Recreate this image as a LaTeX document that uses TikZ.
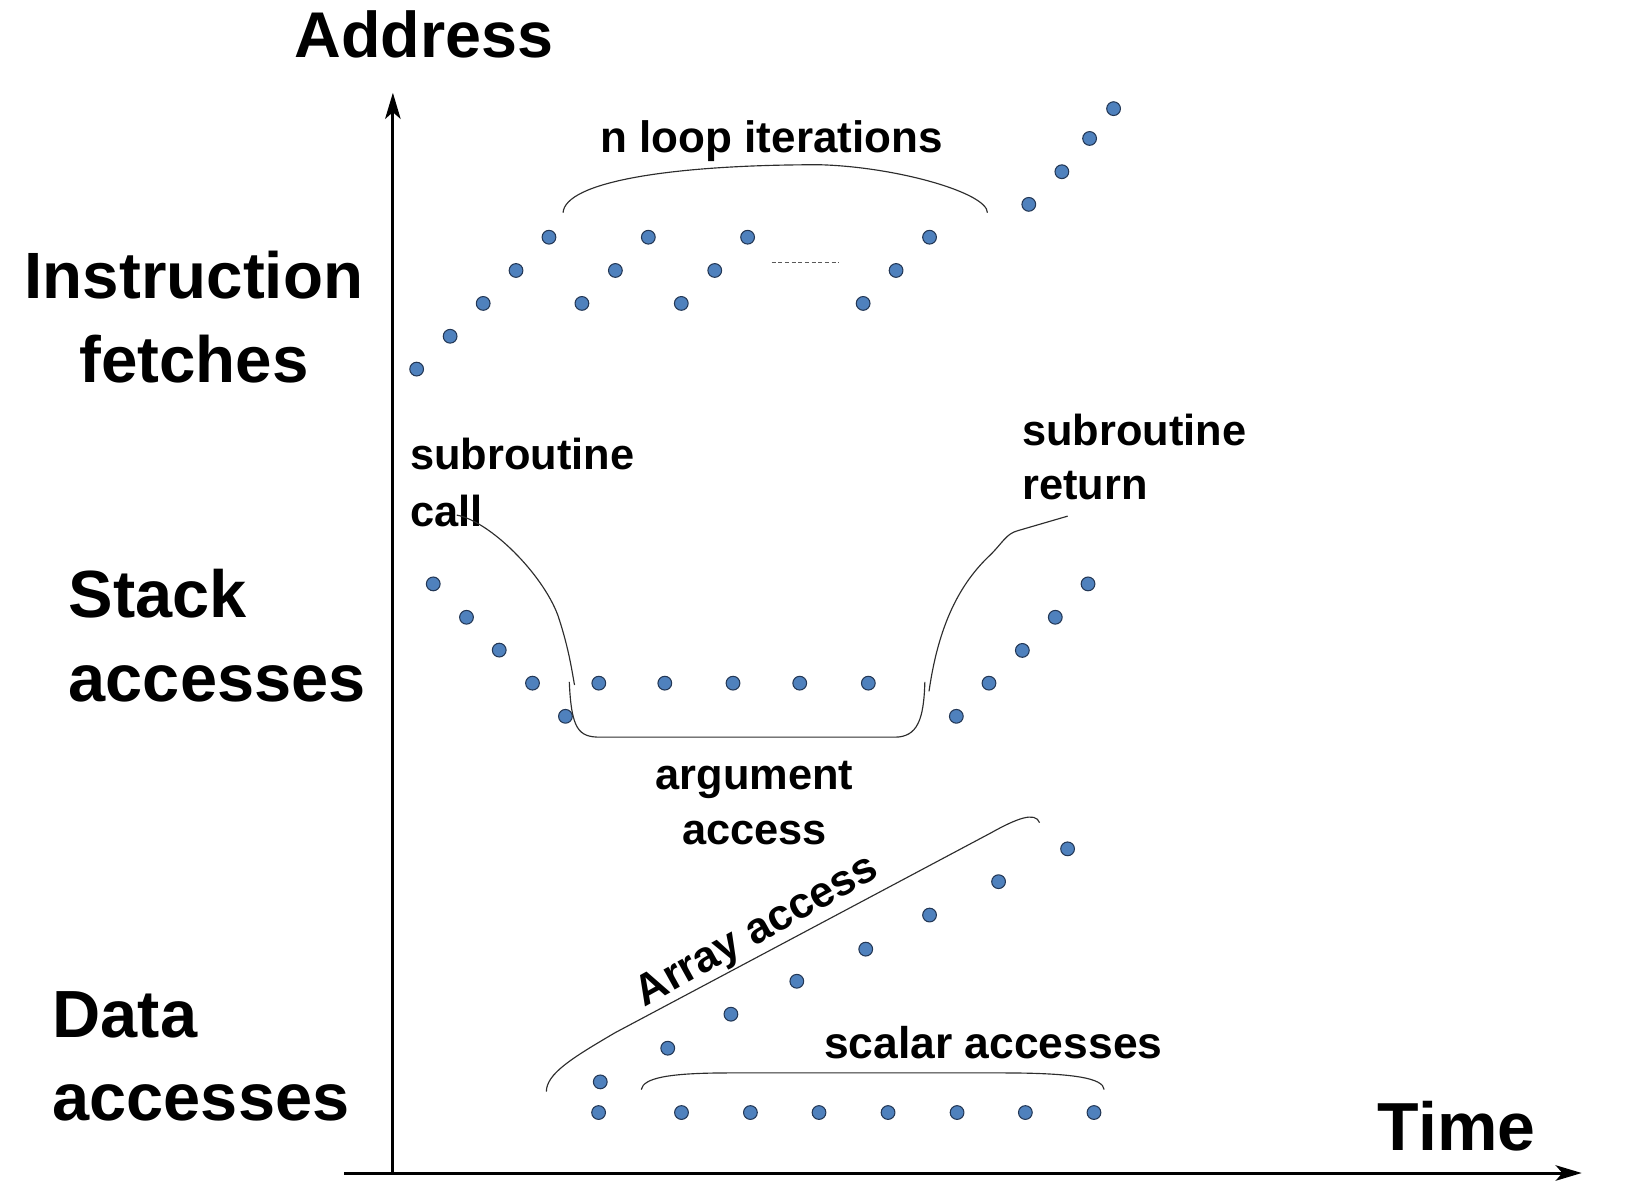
\documentclass[tikz,border=0pt]{standalone}
\usepackage{fontspec}
\setmainfont{Liberation Sans}
\usetikzlibrary{arrows.meta}
\definecolor{dotfill}{RGB}{79,129,189}
\definecolor{dotline}{RGB}{35,55,85}
\definecolor{bracecol}{RGB}{45,45,45}
\begin{document}
\begin{tikzpicture}[x=0.5pt,y=-0.5pt,
  dot/.style={circle,fill=dotfill,draw=dotline,line width=0.5pt,minimum size=6.6pt,inner sep=0pt},
  biglabel/.style={font=\fontsize{31}{40}\selectfont\bfseries,inner sep=0pt,anchor=base west},
  widelabel/.style={biglabel,font=\fontsize{32}{40}\selectfont\bfseries},
  smalllabel/.style={font=\fontsize{20.8}{26}\selectfont\bfseries,inner sep=0pt,anchor=base west},
  axisline/.style={line width=1.45pt,-{Stealth[length=12.5pt,width=7.4pt,inset=3.2pt]}},
  bracecurve/.style={draw=bracecol,line width=0.55pt},
  dotsline/.style={draw=gray!70!black,line width=0.5pt,dash pattern=on 1.9pt off 1.3pt}
  ]
\useasboundingbox (0,0) rectangle (1570,1150);

% axes
\coordinate (origin) at (376.8,1125);
\coordinate (ytip) at (376.8,89);
\coordinate (xstart) at (330,1125);
\coordinate (xtip) at (1517,1125);
\draw[axisline] (origin) -- (ytip);
\draw[axisline] (xstart) -- (xtip);

% axis and group labels
\node[biglabel] (address) at (282,55) {Address};
\node[widelabel,font=\fontsize{32.6}{40}\selectfont\bfseries] (time) at (1321,1103.6) {Time};
\node[biglabel,anchor=base,font=\fontsize{31.4}{40}\selectfont\bfseries] (instr1) at (186,286) {Instruction};
\node[biglabel,anchor=base,font=\fontsize{31.4}{40}\selectfont\bfseries] (instr2) at (186,367) {fetches};
\node[widelabel] (stack1) at (65.5,592.5) {Stack};
\node[widelabel] (stack2) at (65.5,672.5) {accesses};
\node[widelabel] (data1) at (50,995.4) {Data};
\node[widelabel] (data2) at (50,1075) {accesses};

% small labels
\node[smalllabel,font=\fontsize{21.1}{26}\selectfont\bfseries] (loop) at (575.5,146) {n loop iterations};
\node[smalllabel] (call1) at (393,450.6) {subroutine};
\node[smalllabel] (call2) at (393,504.5) {call};
\node[smalllabel] (ret1) at (980,427) {subroutine};
\node[smalllabel] (ret2) at (980,479.5) {return};
\node[smalllabel,anchor=base] (arg1) at (723.5,757.6) {argument};
\node[smalllabel,anchor=base] (arg2) at (723.5,810) {access};
\node[smalllabel,font=\fontsize{21.3}{26}\selectfont\bfseries] (scalar) at (790,1015) {scalar accesses};
\node[smalllabel,rotate=29] (array) at (618,966) {Array access};

% instruction fetch dots
\foreach \x/\y [count=\i] in {399.6/354,431.7/322.5,463.4/291,494.9/259.4,526.5/227.5,
  558.1/291,590.2/259.4,621.8/227.5,653.4/291,685.5/259.4,717/227.5,
  827.8/291,859.4/259.4,891.5/227.5,986.7/196,1018.4/164.7,1045/132.8,1068/104.2}
  \node[dot] (if\i) at (\x,\y) {};
\coordinate (dashA) at (740,251.5);
\coordinate (dashB) at (804.4,251.5);
\draw[dotsline] (dashA) -- (dashB);

% stack dots
\foreach \x/\y [count=\i] in {415.5/560,447.4/592,478.8/623.5,510.7/655.2,542.3/687,
  574.3/655.2,637.6/655.2,703/655.2,767/655.2,832.8/655.2,
  917.2/687,948.5/655.2,980.5/623.8,1012.1/592,1043.5/560}
  \node[dot] (st\i) at (\x,\y) {};

% data dots
\foreach \x/\y [count=\i] in {575.7/1037.6,640.4/1005.3,701/972.7,764.2/941.1,
  830.3/910.3,891.5/877.6,957.7/845.6,1023.9/814.1}
  \node[dot] (ar\i) at (\x,\y) {};
\foreach \x [count=\i] in {574.1,653.6,719.7,785.5,851.7,917.9,983.4,1049.2}
  \node[dot] (sc\i) at (\x,1067) {};

% braces
\draw[bracecurve] (540,204) .. controls (542,175) and (640,158) .. (786,158)
  .. controls (860,160) and (947,185) .. (947,204);
\draw[bracecurve] (438,494) .. controls (470,500) and (520,550) .. (535,590)
  .. controls (545,620) and (548,640) .. (551,657);
\draw[bracecurve] (546,654) .. controls (548,700) and (555,707) .. (576,707)
  -- (858,707) .. controls (880,707) and (886,690) .. (887,654);
\draw[bracecurve] (891,663) .. controls (900,600) and (920,560) .. (950,532)
  .. controls (962,520) and (965,512) .. (976,509) -- (1024,495);
\draw[bracecurve] (524,1047) .. controls (524,1030) and (548,1015) .. (590,990.4)
  -- (950,799) .. controls (975,785) and (993,778) .. (997,789);
\draw[bracecurve] (615,1045) .. controls (617,1034) and (640,1029) .. (700,1029)
  -- (960,1029) .. controls (1030,1029) and (1058,1034) .. (1059,1045);
\end{tikzpicture}
\end{document}
